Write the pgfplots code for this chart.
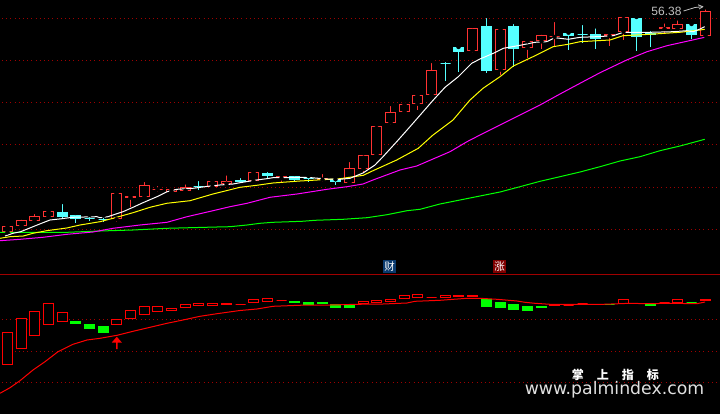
\documentclass[border=0pt]{standalone}
\usepackage{pgfplots}
\usepackage{pgfplotstable}
\usepackage{fontspec}
\pgfplotsset{compat=1.18}
\setmainfont{Liberation Sans}
\newfontfamily\cjk{Noto Sans CJK SC}
\newfontfamily\web{DejaVu Sans}
\definecolor{cred}{HTML}{FF3232}
\definecolor{pred}{HTML}{FF0000}
\definecolor{ccy}{HTML}{55FFFF}
\definecolor{gridc}{HTML}{A00000}
\definecolor{lgreen}{HTML}{00FF00}
\definecolor{cmag}{HTML}{FF00FF}
\definecolor{cyel}{HTML}{FFFF00}
\definecolor{cgray}{HTML}{C0C0C0}
\definecolor{cai}{HTML}{0A3A6E}
\definecolor{zhang}{HTML}{800000}

\pgfplotstableread{
x top bot high low
7.3 226 232.3 226 232.3
21.0 220.3 225.7 217.7 225.7
34.7 216.3 220.7 212 220.7
48.4 211.3 216.7 211.3 216.7
116.8 193.3 219.3 193.3 221.7
130.5 195.7 197.7 195.7 206.7
144.2 185.3 196.7 180 196.7
157.8 188.5 189.5 184 191.7
171.5 189.3 191.7 189.3 191.7
185.2 187.3 190.7 182.3 190.7
212.6 181.3 186.7 181.3 186.7
226.3 181.3 183.7 173.3 183.7
253.6 172.3 181.3 172.3 181.3
281.0 176.3 178.3 175 183
322.1 178.3 179.7 172 181.7
349.4 168.3 182.7 160 182.7
363.1 155.3 168.7 153.3 172
376.8 126.3 154.7 125 154.7
390.5 112.3 122.7 104 124.7
404.2 104.3 111.7 104.3 113
417.9 95.3 103.7 95.3 110
431.6 70 94.7 61 94.7
472.6 28 50.7 26 52.7
500.0 29.3 69.5 29.3 75
527.4 41.3 47.7 41.3 58.3
541.0 35.3 41.3 32.7 49
554.7 36 37 20 46.7
609.5 34.3 36 32.3 45.7
623.2 17.3 31.7 16 39.7
664.2 27.3 29 21.3 33.3
677.9 24.3 28.7 18.3 33.3
705.3 11.3 35.7 7.3 35.7
}\redbars

\pgfplotstableread{
x top bot high low
62.0 212 217 202 219
75.7 215 218.7 213 222.7
89.4 217.7 219.3 215 221
103.1 218.7 219.7 215.7 221.7
198.9 186 187.3 179 190
240.0 180 181.5 176 181.7
267.3 173 176 170 178
294.7 176 180 174 181
308.4 177.5 178.5 176 182.3
335.8 179.3 182 179.3 184.7
445.2 62.5 63.5 60 80.7
458.9 47 51.7 47 72
486.3 26 70.7 16 72.7
513.7 26 48.7 22 67.3
568.4 32.7 35.7 32.7 50
582.1 33.8 34.8 23 43.3
595.8 34 39 26.3 49
636.9 18 36.7 17 51
650.5 33.3 34.7 29 47.3
691.6 24 34.7 24 39.3
}\cybars

\pgfplotstableread{
x top bot
7.3 332.3 365.3
21.0 318.3 349.3
34.7 311.3 336.3
48.4 303.3 325.3
62.0 312.3 321.7
116.8 319.3 324.7
130.5 310.3 319.3
144.2 306.3 315.3
157.8 306.3 312.3
171.5 307.7 310.7
185.2 304.3 308.3
198.9 302.7 306.3
212.6 303.3 305.7
226.3 303.3 304.7
240.0 304 305
253.6 299.3 302.7
267.3 298.3 301.7
281.0 300 301
363.1 301.3 304.3
376.8 300.3 302.7
390.5 299.3 302
404.2 295.3 299.3
417.9 294.3 298.3
431.6 297 298
445.2 295.3 297.7
458.9 295.3 296.7
472.6 295.3 296.7
554.7 304.3 305.7
568.4 304.7 305.7
582.1 303 304.3
595.8 304 305
623.2 299.3 304
664.2 302.3 303.3
677.9 299.3 302.7
705.3 299.3 301.3
}\lowred

\pgfplotstableread{
x top bot
75.7 321 324
89.4 324 329
103.1 326 333
294.7 301 303
308.4 302 304.7
322.1 302 304
335.8 304 307.7
349.4 305 307.7
486.3 299.3 306.7
500.0 302 308
513.7 304.3 309.7
527.4 306 310.7
541.0 306 307.7
609.5 304 305
636.9 303 303.7
650.5 303 305.7
691.6 302 303
}\lowgreen

\pgfplotsset{
  gridline/.style={color=gridc, line width=0.9pt, dash pattern=on 1pt off 3.2pt, forget plot},
  errs/.style n args={2}{only marks, mark=none, forget plot,
    error bars/.cd, y dir=plus, y explicit, error mark=none,
    error bar style={line width=#1, color=#2, solid}},
}

% one rectangle per row of a table, its edges on whole pixels:
% table, last row, line colour, fill colour
\newcommand\bodies[4]{%
  \pgfplotsinvokeforeach{0,...,#2}{%
    \pgfplotstablegetelem{##1}{x}\of{#1}%
    \pgfmathsetmacro\xa{floor(\pgfplotsretval-5)+0.5}%
    \pgfmathsetmacro\xb{\xa+10}%
    \pgfplotstablegetelem{##1}{top}\of{#1}%
    \pgfmathsetmacro\ya{round(\pgfplotsretval)+0.5}%
    \pgfplotstablegetelem{##1}{bot}\of{#1}%
    \pgfmathsetmacro\yb{max(round(\pgfplotsretval)-0.5,\ya)}%
    \addplot[draw=#3, fill=#4, line width=1pt, forget plot] coordinates
      {(\xa,\ya)(\xb,\ya)(\xb,\yb)(\xa,\yb)} -- cycle;
  }%
}

\begin{document}
\begin{tikzpicture}
\begin{axis}[
  scale only axis, width=720pt, height=414pt,
  xmin=0, xmax=720, ymin=0, ymax=414, y dir=reverse,
  axis line style={draw=none}, ticks=none, clip=true,
  axis background/.style={fill=black},
]
% grid
\addplot[gridline] coordinates {(2,18.5)(720,18.5)};
\addplot[gridline] coordinates {(2,60.5)(720,60.5)};
\addplot[gridline] coordinates {(2,102.5)(720,102.5)};
\addplot[gridline] coordinates {(2,144.5)(720,144.5)};
\addplot[gridline] coordinates {(2,187.5)(720,187.5)};
\addplot[gridline] coordinates {(2,229.5)(720,229.5)};
\addplot[gridline] coordinates {(2,319.5)(720,319.5)};
\addplot[gridline] coordinates {(2,351.5)(720,351.5)};
\addplot[gridline] coordinates {(2,382.5)(720,382.5)};
\addplot[color=gridc, line width=1pt, forget plot] coordinates {(0,274.5)(720,274.5)};

% wicks
\addplot[errs={1pt}{ccy}] table[x expr={floor(\thisrow{x}-5)+5.5}, y=high, y error expr=\thisrow{low}-\thisrow{high}] {\cybars};
\addplot[errs={1pt}{cred}] table[x expr={floor(\thisrow{x}-5)+5.5}, y=high, y error expr=\thisrow{top}-\thisrow{high}] {\redbars};
\addplot[errs={1pt}{cred}] table[x expr={floor(\thisrow{x}-5)+5.5}, y=bot, y error expr=\thisrow{low}-\thisrow{bot}] {\redbars};
% bodies
\bodies{\cybars}{19}{ccy}{ccy}
\bodies{\redbars}{31}{cred}{black}

% moving averages
\addplot[color=lgreen, line width=1pt, forget plot] coordinates {
(0,232.3)(67,232.3)(100,231)(133,230)(167,228.3)(217,227)(230,226.7)(247,225)(260,223.3)(273,222.3)(302,221.3)(315,220.3)(343,219.3)(367,217.7)(387,214.7)(407,210.7)(420,209.3)(440,204)(460,200)(480,196)(500,192)(520,186.7)(540,181.3)(560,176.7)(580,172)(600,166.7)(620,161)(640,156.7)(660,150.7)(680,146)(704.7,139.3)};
\addplot[color=cmag, line width=1pt, forget plot] coordinates {
(0,240.7)(20,239.3)(43,237.3)(67,234.3)(93,232)(113,228.3)(140,225)(167,222.3)(187,216.7)(213,210.7)(230,206.7)(247,203.3)(270,197.3)(297,194)(327,189.3)(347,186.7)(363,184)(373,180)(400,170)(416.7,166)(433,159)(450,151.7)(467,141.7)(480,135)(500,125)(520,115)(540,105)(560,94)(580,83.3)(600,72.7)(626.7,60)(647,51.7)(667,45.7)(704.7,37.3)};
\addplot[color=cyel, line width=1pt, forget plot] coordinates {
(0,238.3)(10,236.7)(23.3,236)(33,233.3)(46.7,230.7)(66.7,228)(80,225)(100,221.7)(113,218.3)(133,212.7)(150,207.3)(166.7,203.3)(190,200.7)(213,194)(240,187.3)(256.7,185.3)(273,183)(300,181)(340,178.7)(363.3,175.3)(373,170.7)(396.7,160)(418.3,148.3)(433,135)(453,120)(470,100)(483,88.3)(500,76.7)(513.3,66)(533,56.7)(553,46.7)(568,44.3)(580,41.7)(610,40)(623,35.7)(650,34.3)(680,32.3)(700,30)(704.7,29.3)};
\addplot[color=white, line width=1pt, forget plot] coordinates {
(5,236)(13,233.3)(20.7,231.7)(33,226.7)(43,222.7)(50,220)(62,218.7)(72,217.3)(97,216.7)(100,217.7)(108,216.7)(115,214.3)(123,211.7)(133,207.3)(143,202.7)(157,196.7)(167,191.7)(177,189.3)(193,188.3)(208,186.3)(220,185)(233,184)(240,182.7)(256.7,180)(266.7,178.7)(273,177.7)(306.7,177.3)(326.7,179)(340,179.3)(350,178.3)(363,173)(375,165)(383,156.7)(396.7,141.7)(410,126.7)(421.7,113.3)(433.3,100)(445,87.3)(458.3,76.7)(471.7,63.3)(480,59)(493.3,53.3)(503.3,48.3)(521.7,45)(535,42.3)(546.7,41.7)(555,37.7)(568.3,39.3)(580,37.3)(596.7,36.7)(613.3,35.7)(623.3,32.3)(650,32.3)(673,31.7)(686.7,30.7)(693,31.7)(700,29)(704.7,26.7)};

% lower pane
\bodies{\lowgreen}{16}{lgreen}{lgreen}
\bodies{\lowred}{34}{pred}{black}
\addplot[color=pred, line width=1pt, forget plot] coordinates {
(0,393.3)(10,387.7)(20,380.7)(33,370)(45,361.7)(58,351.7)(73,344.3)(87,340)(100,338.3)(117,335.3)(133,331.3)(150,327.3)(167,323.3)(183,320)(200,316.3)(217,313.7)(240,310.5)(257,309)(273,306.3)(307,305)(330,305)(357,304.3)(383,304)(407,303)(415,301.3)(440,300.3)(467,298.3)(480,298.3)(497,299.3)(517,301)(525,302.3)(535,303.3)(550,304.3)(577,304.3)(603,304.3)(630,303.3)(647,303.7)(670,303.3)(697,303.7)(705,302)};

% red arrow
\addplot[fill=pred, draw=none, forget plot] coordinates {
(116.8,336.7)(121.8,342.5)(117.6,342.5)(117.6,349)(116,349)(116,342.5)(111.8,342.5)} -- cycle;

% price marker arrow
\addplot[color=cgray, line width=0.8pt, forget plot] coordinates {(683.5,11)(695,7.5)(703,6.7)};
\addplot[color=cgray, line width=0.8pt, forget plot] coordinates {(698,4.8)(703,6.7)(699,9)};

\node[anchor=center, text=cgray, font=\fontsize{12pt}{13pt}\selectfont, inner sep=0pt] at (axis cs:666.5,11.2) {56.38};
\node[anchor=center, fill=cai, text=white, font=\cjk\fontsize{10.5pt}{11pt}\selectfont, inner sep=0pt, minimum size=12.5pt] at (axis cs:389.5,266.4) {财};
\node[anchor=center, fill=zhang, text=white, font=\cjk\fontsize{10.5pt}{11pt}\selectfont, inner sep=0pt, minimum size=12.5pt] at (axis cs:499.5,266.4) {涨};
\node[anchor=center, text=white, font=\cjk\bfseries\fontsize{12pt}{13pt}\selectfont, inner sep=0pt] at (axis cs:615.4,374.5) {掌\hspace{13pt}上\hspace{13pt}指\hspace{13pt}标};
\node[anchor=center, text=white!88!black, font=\web\fontsize{17.3pt}{18pt}\selectfont, inner sep=0pt] at (axis cs:614.5,389.5) {www.palmindex.com};
\end{axis}
\end{tikzpicture}
\end{document}
